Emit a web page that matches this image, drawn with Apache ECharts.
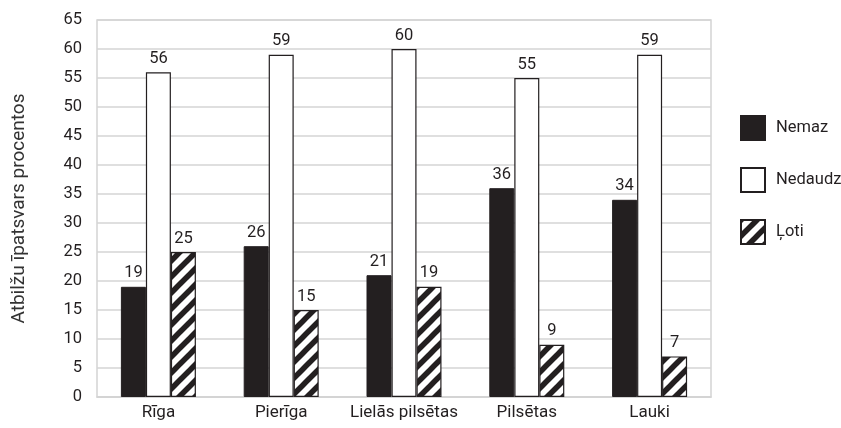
<!DOCTYPE html>
<html>
<head>
<meta charset="utf-8">
<script src="https://cdn.jsdelivr.net/npm/echarts@6/dist/echarts.min.js"></script>
<style>
  html, body { margin: 0; padding: 0; background: #ffffff; }
  #chart { width: 841px; height: 428px; }
</style>
</head>
<body>
<div id="chart"></div>
<script>
// Response shares by settlement type
const categories = ['Rīga', 'Pierīga', 'Lielās pilsētas', 'Pilsētas', 'Lauki'];
const nemaz = [19, 26, 21, 36, 34];
const nedaudz = [56, 59, 60, 55, 59];
const loti = [25, 15, 19, 9, 7];
const seriesNames = ['Nemaz', 'Nedaudz', 'Ļoti'];
const yTicks = { min: 0, max: 65, interval: 5 };

// Diagonal stripe fill for the "Ļoti" bars
function stripePattern() {
  const size = 16;
  const c = document.createElement('canvas');
  c.width = size; c.height = size;
  const ctx = c.getContext('2d');
  ctx.fillStyle = '#ffffff';
  ctx.fillRect(0, 0, size, size);
  ctx.strokeStyle = '#231f20';
  ctx.lineWidth = 5.5;
  ctx.lineCap = 'square';
  const seg = (x0, y0, x1, y1) => { ctx.beginPath(); ctx.moveTo(x0, y0); ctx.lineTo(x1, y1); ctx.stroke(); };
  seg(-size, size, size, -size);
  seg(0, size, size, 0);
  seg(0, 2 * size, 2 * size, 0);
  return c;
}

const ink = '#231f20';
const font = 'Roboto, "Open Sans", sans-serif';
const labelStyle = { show: true, position: 'top', distance: 5, color: ink, fontSize: 16.5, fontFamily: font };

const chart = echarts.init(document.getElementById('chart'), null, { renderer: 'canvas' });
chart.setOption({
  animation: false,
  backgroundColor: '#ffffff',
  grid: { left: 97, right: 130, top: 20, bottom: 31, show: true, borderColor: '#d4d4d4', borderWidth: 1.5 },
  legend: {
    orient: 'vertical',
    left: 735,
    top: 110,
    itemWidth: 24,
    itemHeight: 24,
    itemGap: 26,
    icon: 'rect',
    textStyle: { color: ink, fontSize: 16.5, fontFamily: font, padding: [0, 0, 0, 6] },
    data: seriesNames
  },
  xAxis: {
    type: 'category',
    data: categories,
    axisLine: { show: true, lineStyle: { color: '#d4d4d4', width: 1.5 } },
    axisTick: { show: false },
    axisLabel: { interval: 0, color: ink, fontSize: 17, fontFamily: font, margin: 7 }
  },
  yAxis: {
    type: 'value',
    min: yTicks.min,
    max: yTicks.max,
    interval: yTicks.interval,
    name: 'Atbilžu īpatsvars procentos',
    nameLocation: 'middle',
    nameGap: 68,
    nameRotate: 90,
    nameTextStyle: { color: '#333333', fontSize: 19, fontFamily: font },
    axisLine: { show: false },
    axisTick: { show: false },
    axisLabel: { color: ink, fontSize: 16.5, fontFamily: font, margin: 15 },
    splitLine: { lineStyle: { color: '#d4d4d4', width: 1.5 } }
  },
  series: [
    {
      name: seriesNames[0], type: 'bar', data: nemaz,
      barWidth: 25, barGap: '0%',
      itemStyle: { color: ink, borderColor: ink, borderWidth: 1 },
      label: labelStyle
    },
    {
      name: seriesNames[1], type: 'bar', data: nedaudz,
      barWidth: 25, barGap: '0%',
      itemStyle: { color: '#ffffff', borderColor: ink, borderWidth: 1.2 },
      label: labelStyle
    },
    {
      name: seriesNames[2], type: 'bar', data: loti,
      barWidth: 25, barGap: '0%',
      itemStyle: { color: { image: stripePattern(), repeat: 'repeat' }, borderColor: ink, borderWidth: 1.2 },
      label: labelStyle
    }
  ]
});
</script>
</body>
</html>
